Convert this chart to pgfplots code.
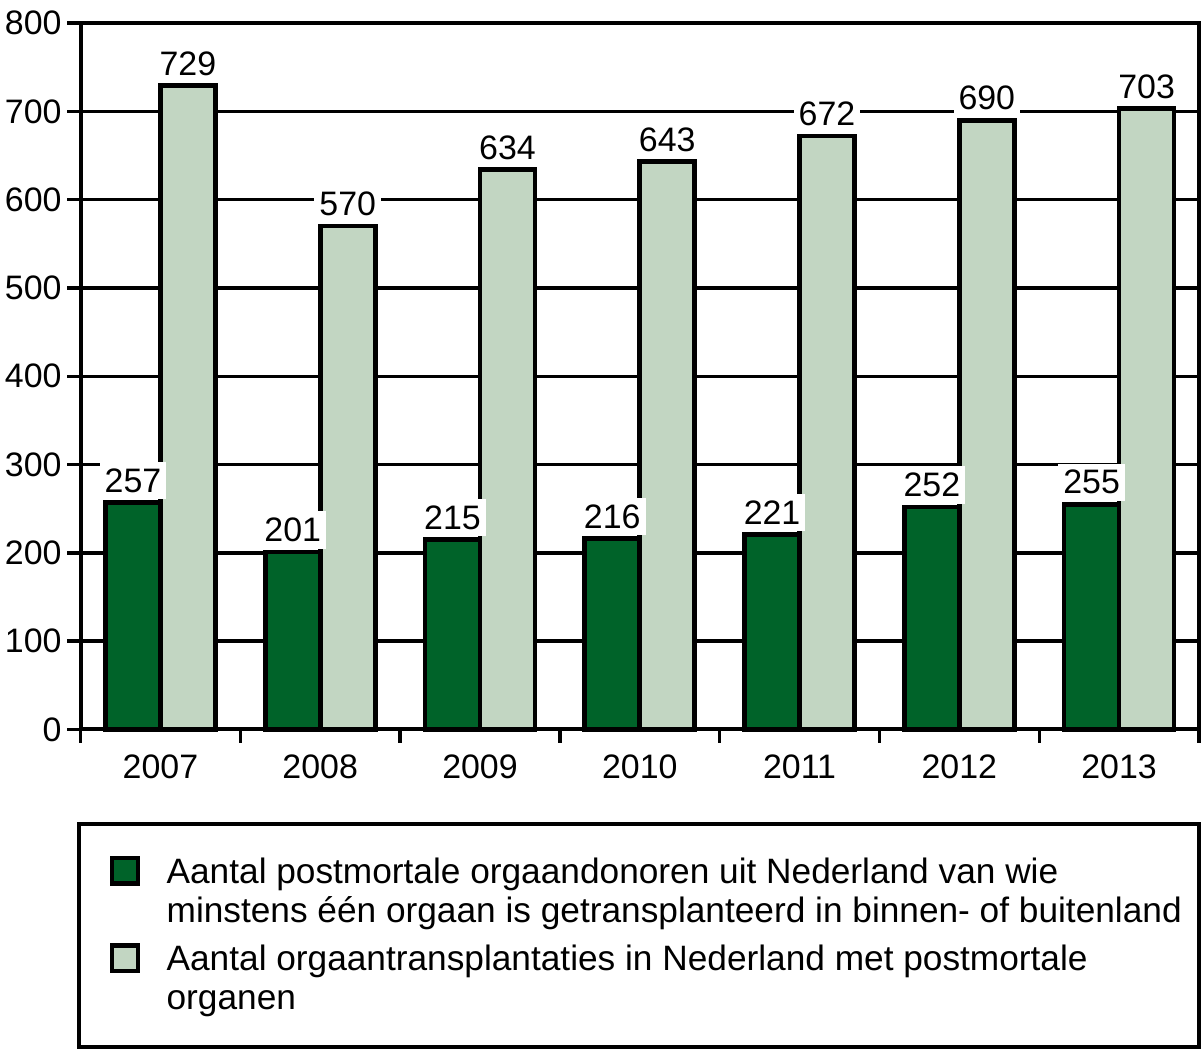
\documentclass[border=0pt]{standalone}
\usepackage{fontspec}
\setmainfont{Liberation Sans}
\usepackage{pgfplots}
\pgfplotsset{compat=1.18}
\definecolor{donor}{RGB}{0,99,41}
\definecolor{transpl}{RGB}{194,214,194}

\begin{document}
\begin{tikzpicture}[font=\fontsize{10.2}{12}\selectfont]
\begin{axis}[
    scale only axis,
    width=336.3pt, height=212.4pt,
    ybar=0pt, bar width=0.344,
    xmin=-0.5, xmax=6.5,
    ymin=0, ymax=800,
    xtick={-0.5,0.5,1.5,2.5,3.5,4.5,5.5,6.5},
    x tick label as interval,
    xticklabels={2007,2008,2009,2010,2011,2012,2013},
    ytick={0,100,...,800},
    tick pos=left,
    ymajorgrids,
    grid style={black, line width=1pt},
    axis line style={line width=1.2pt},
    tick align=outside,
    tick style={black, line width=1pt},
    major tick length=4pt,
    /pgf/number format/assume math mode=true,
    ticklabel style={font=\fontsize{10.2}{12}\selectfont},
    yticklabel style={inner xsep=1.5pt},
    nodes near coords,
    every node near coord/.append style={fill=white, inner xsep=1.5pt,
        inner ysep=2pt, yshift=0.3pt, font=\fontsize{10.2}{12}\selectfont},
    clip=false,
    legend style={at={(rel axis cs:0.0169,-0.162)}, anchor=north west,
        draw=none, fill=none, row sep=7.3pt, column sep=6pt,
        font=\fontsize{10.6}{11.7}\selectfont,
        cells={inner ysep=0pt}},
    legend cell align=left,
    legend image code/.code={
        \draw[#1, line width=1.3pt] (0.6pt,-0.2pt) rectangle (8.3pt,7.5pt);},
]
\addplot[draw=black, line width=1.4pt, fill=donor] coordinates {
    (0,257) (1,201) (2,215) (3,216) (4,221) (5,252) (6,255)};
\addplot[draw=black, line width=1.4pt, fill=transpl] coordinates {
    (0,729) (1,570) (2,634) (3,643) (4,672) (5,690) (6,703)};
\addlegendentry{\parbox{306pt}{Aantal postmortale orgaandonoren uit Nederland van wie\\minstens één orgaan is getransplanteerd in binnen- of buitenland}}
\addlegendentry{\parbox{306pt}{Aantal orgaantransplantaties in Nederland met postmortale\\organen}}
\draw[line width=1.2pt] (rel axis cs:-0.0018,-0.1342) rectangle (rel axis cs:1,-0.4492);
\end{axis}
\end{tikzpicture}
\end{document}
